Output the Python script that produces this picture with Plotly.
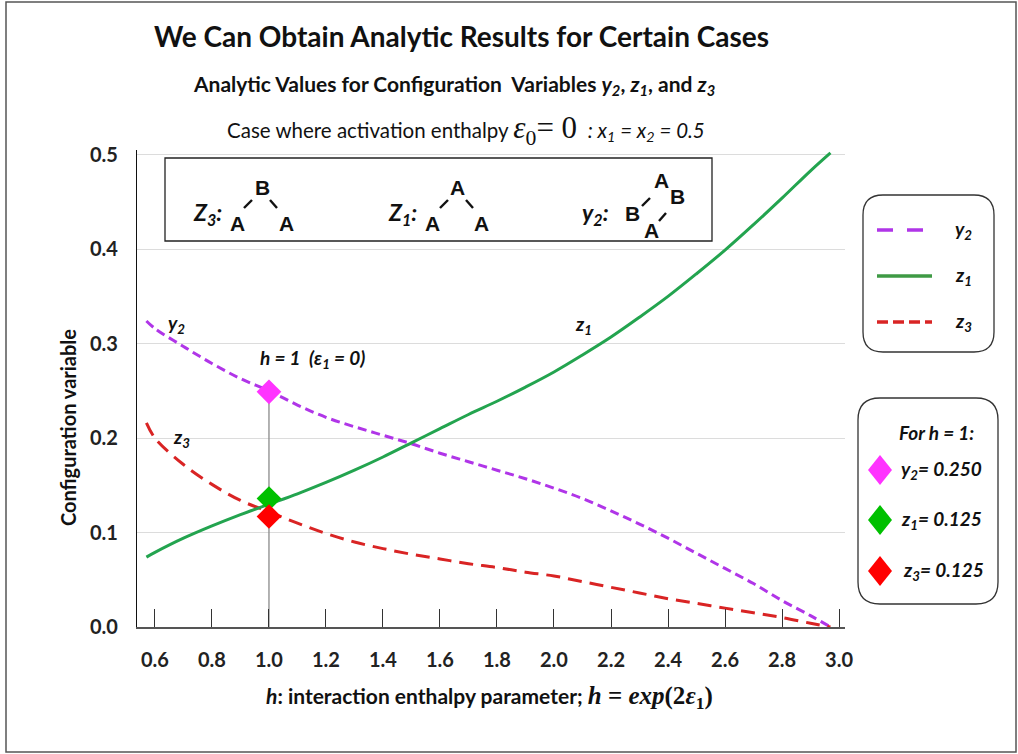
import plotly.graph_objects as go

# ---------------- data ----------------
h = [0.57, 0.6, 0.7, 0.8, 0.9, 1.0, 1.1, 1.2, 1.3, 1.4, 1.5, 1.6, 1.7,
     1.8, 1.9, 2.0, 2.1, 2.2, 2.3, 2.4, 2.5, 2.6, 2.7, 2.8, 2.9, 2.97]
y2 = [0.324, 0.316, 0.297, 0.279, 0.263, 0.250, 0.235, 0.222, 0.212, 0.203,
      0.194, 0.184, 0.175, 0.166, 0.157, 0.147, 0.136, 0.123, 0.109, 0.094,
      0.078, 0.062, 0.046, 0.028, 0.012, 0.0]
z1 = [0.074, 0.079, 0.094, 0.107, 0.119, 0.130, 0.141, 0.153, 0.166, 0.180,
      0.195, 0.210, 0.225, 0.239, 0.254, 0.270, 0.288, 0.307, 0.328, 0.350,
      0.374, 0.399, 0.426, 0.454, 0.483, 0.502]
z3 = [0.216, 0.200, 0.172, 0.151, 0.134, 0.122, 0.110, 0.099, 0.090, 0.083,
      0.077, 0.072, 0.067, 0.063, 0.058, 0.054, 0.048, 0.042, 0.036, 0.030,
      0.025, 0.020, 0.015, 0.010, 0.004, 0.0]

h_point = [1.0]
y2_point = [0.249]
z1_point = [0.136]
z3_point = [0.117]
point_labels = ["0.250", "0.125", "0.125"]

x_ticks = [0.6, 0.8, 1.0, 1.2, 1.4, 1.6, 1.8, 2.0, 2.2, 2.4, 2.6, 2.8, 3.0]
x_tick_text = ["0.6", "0.8", "1.0", "1.2", "1.4", "1.6", "1.8", "2.0",
               "2.2", "2.4", "2.6", "2.8", "3.0"]
y_ticks = [0.0, 0.1, 0.2, 0.3, 0.4, 0.5]
y_tick_text = ["0.0", "0.1", "0.2", "0.3", "0.4", "0.5"]

# ---------------- styling ----------------
W, H = 1018, 754
L, R, T, B = 137, 173, 150, 127
PW, PH = W - L - R, H - T - B
SANS = "Lato, Open Sans, sans-serif"
ARIAL = "Liberation Sans, Arial, sans-serif"
SERIF = "Liberation Serif"

C_Y2 = "#B035E8"
C_Z1 = "#23A44F"
C_Z3 = "#D92424"
C_LG = "#3E9A44"


def px(x):
    return (x - L) / PW


def py(y):
    return (H - B - y) / PH


fig = go.Figure()

# drop line at h = 1
fig.add_trace(go.Scatter(x=[h_point[0], h_point[0]], y=[0, y2_point[0]], mode="lines",
                         line=dict(color="#8a8a8a", width=1.3), showlegend=False,
                         hoverinfo="skip"))

fig.add_trace(go.Scatter(x=h, y=y2, mode="lines", name="y2", line_shape="spline",
                         line=dict(color=C_Y2, width=3, dash="9px,5px"),
                         showlegend=False))
fig.add_trace(go.Scatter(x=h, y=z3, mode="lines", name="z3", line_shape="spline",
                         line=dict(color=C_Z3, width=3, dash="14px,8px"),
                         showlegend=False))
fig.add_trace(go.Scatter(x=h, y=z1, mode="lines", name="z1", line_shape="spline",
                         line=dict(color=C_Z1, width=3),
                         showlegend=False))

for yy, col in [(y2_point, "#FF33FF"), (z1_point, "#00C000"), (z3_point, "#FF0000")]:
    fig.add_trace(go.Scatter(x=h_point, y=yy, mode="markers", showlegend=False,
                             marker=dict(symbol="diamond", size=19, color=col,
                                         line=dict(width=0)),
                             cliponaxis=False))

shapes = []
ann = []

# figure border
shapes.append(dict(type="rect", xref="paper", yref="paper",
                   x0=px(6), x1=px(1016), y0=py(752), y1=py(2),
                   line=dict(color="#555", width=1.5)))

# structures box
shapes.append(dict(type="rect", xref="paper", yref="paper",
                   x0=px(165), x1=px(712), y0=py(241), y1=py(158),
                   fillcolor="white", line=dict(color="#222", width=1.3), layer="above"))


def seg(x0, y0, x1, y1, w=2.4, col="#111"):
    shapes.append(dict(type="line", xref="paper", yref="paper",
                       x0=px(x0), y0=py(y0), x1=px(x1), y1=py(y1),
                       line=dict(color=col, width=w), layer="above"))


def txt(x, y, s, size=17, fam=SANS, col="#111", xa="center", ang=0):
    ann.append(dict(x=px(x), y=py(y), xref="paper", yref="paper", text=s,
                    showarrow=False, xanchor=xa, yanchor="middle", textangle=ang,
                    font=dict(family=fam, size=size, color=col)))


def sub(v, i):
    return f"<b><i>{v}</i></b><sub><b><i>{i}</i></b></sub>"


# structure letters
LET = 21
txt(207, 213, sub("Z", "3") + "<b><i>:</i></b>", 23)
txt(262, 187, "<b>B</b>", LET, ARIAL)
txt(237, 223, "<b>A</b>", LET, ARIAL)
txt(286, 223, "<b>A</b>", LET, ARIAL)
seg(244, 208, 252, 200)
seg(270, 200, 277, 208)

txt(402, 213, sub("Z", "1") + "<b><i>:</i></b>", 23)
txt(457, 187, "<b>A</b>", LET, ARIAL)
txt(432, 223, "<b>A</b>", LET, ARIAL)
txt(481, 223, "<b>A</b>", LET, ARIAL)
seg(440, 208, 448, 200)
seg(466, 200, 473, 208)

txt(595, 213, sub("y", "2") + "<b><i>:</i></b>", 23)
txt(632, 213, "<b>B</b>", LET, ARIAL)
txt(661, 180, "<b>A</b>", LET, ARIAL)
txt(677, 196, "<b>B</b>", LET, ARIAL)
txt(651, 230, "<b>A</b>", LET, ARIAL)
seg(642, 206, 650, 198)
seg(659, 221, 666, 213)


def rounded(x0, y0, x1, y1, r):
    p = [
        f"M{px(x0 + r)},{py(y0)}",
        f"L{px(x1 - r)},{py(y0)}",
        f"Q{px(x1)},{py(y0)} {px(x1)},{py(y0 + r)}",
        f"L{px(x1)},{py(y1 - r)}",
        f"Q{px(x1)},{py(y1)} {px(x1 - r)},{py(y1)}",
        f"L{px(x0 + r)},{py(y1)}",
        f"Q{px(x0)},{py(y1)} {px(x0)},{py(y1 - r)}",
        f"L{px(x0)},{py(y0 + r)}",
        f"Q{px(x0)},{py(y0)} {px(x0 + r)},{py(y0)}",
        "Z",
    ]
    shapes.append(dict(type="path", xref="paper", yref="paper", path=" ".join(p),
                       line=dict(color="#333", width=1.3), fillcolor="white"))


# legend box 1
rounded(863, 195, 994, 352, 20)
shapes.append(dict(type="line", xref="paper", yref="paper", x0=px(877), x1=px(927),
                   y0=py(230), y1=py(230), line=dict(color=C_Y2, width=3.5, dash="16px,14px")))
shapes.append(dict(type="line", xref="paper", yref="paper", x0=px(877), x1=px(932),
                   y0=py(276), y1=py(276), line=dict(color=C_LG, width=3.5)))
shapes.append(dict(type="line", xref="paper", yref="paper", x0=px(877), x1=px(932),
                   y0=py(322), y1=py(322), line=dict(color=C_Z3, width=3.5, dash="11px,5px")))
txt(963, 230, sub("y", "2"), 19)
txt(963, 276, sub("z", "1"), 19)
txt(963, 322, sub("z", "3"), 19)

# legend box 2
rounded(858, 398, 998, 604, 22)
txt(936, 432, "<b><i>For h = 1:</i></b>", 19)


def diamond(cx, cy, w, hgt, col):
    p = (f"M{px(cx)},{py(cy - hgt / 2)} L{px(cx + w / 2)},{py(cy)} "
         f"L{px(cx)},{py(cy + hgt / 2)} L{px(cx - w / 2)},{py(cy)} Z")
    shapes.append(dict(type="path", xref="paper", yref="paper", path=p,
                       fillcolor=col, line=dict(width=0)))


diamond(880, 470, 24, 30, "#FF33FF")
diamond(880, 520, 24, 30, "#00C000")
diamond(880, 571, 24, 30, "#FF0000")
txt(899, 470, sub("y", "2") + f"<b><i>= {point_labels[0]}</i></b>", 19, xa="left")
txt(899, 520, sub("z", "1") + f"<b><i>= {point_labels[1]}</i></b>", 19, xa="left")
txt(901, 571, sub("z", "3") + f"<b><i>= {point_labels[2]}</i></b>", 19, xa="left")

# curve labels in plot
txt(176, 324, sub("y", "2"), 19)
txt(181, 438, sub("z", "3"), 19)
txt(583, 325, sub("z", "1"), 19)
txt(312, 359, "<b><i>h = 1  (ε</i></b><sub><b><i>1</i></b></sub><b><i> = 0)</i></b>", 19)

# titles
txt(461, 36, "<b>We Can Obtain Analytic Results for Certain Cases</b>", 28)
txt(454, 85, "<b>Analytic Values for Configuration  Variables <i>y</i><sub><i>2</i></sub>, "
             "<i>z</i><sub><i>1</i></sub>, and <i>z</i><sub><i>3</i></sub></b>", 21)
txt(466, 130, "Case where activation enthalpy "
              f"<span style='font-family:{SERIF};font-size:31px'><i>ε</i><sub>0</sub>= 0</span>"
              "  <i>: x</i><sub><i>1</i></sub><i> = x</i><sub><i>2</i></sub><i> = 0.5</i>", 20.5)

# axis titles
txt(68, 428, "<b>Configuration variable</b>", 20, ang=-90)
txt(489, 697, "<b><i>h</i>: interaction enthalpy parameter; </b>"
              f"<span style='font-family:{SERIF};font-size:25px'><b><i>h</i> = <i>exp</i>(2<i>ε</i><sub>1</sub>)</b></span>", 21)

fig.update_layout(
    width=W, height=H,
    margin=dict(l=L, r=R, t=T, b=B, pad=0),
    paper_bgcolor="white", plot_bgcolor="white",
    shapes=shapes, annotations=ann,
    showlegend=False,
    xaxis=dict(range=[0.537, 3.021], tickvals=x_ticks,
               ticktext=[f"<b>{t}</b>" for t in x_tick_text],
               ticks="inside", ticklen=18, tickwidth=1, tickcolor="#333",
               showgrid=False, zeroline=False, showline=True, linecolor="#555",
               linewidth=2, ticklabelstandoff=14,
               tickfont=dict(family=SANS, size=20, color="#222")),
    yaxis=dict(range=[0, 0.505], tickvals=y_ticks,
               ticktext=[f"<b>{t}</b>" for t in y_tick_text],
               ticks="", showgrid=True, gridcolor="#dcdcdc", gridwidth=1,
               zeroline=False, showline=True, linecolor="#111", linewidth=1.2,
               ticklabelstandoff=14,
               tickfont=dict(family=SANS, size=20, color="#222")),
)

fig.write_html("out.html")
